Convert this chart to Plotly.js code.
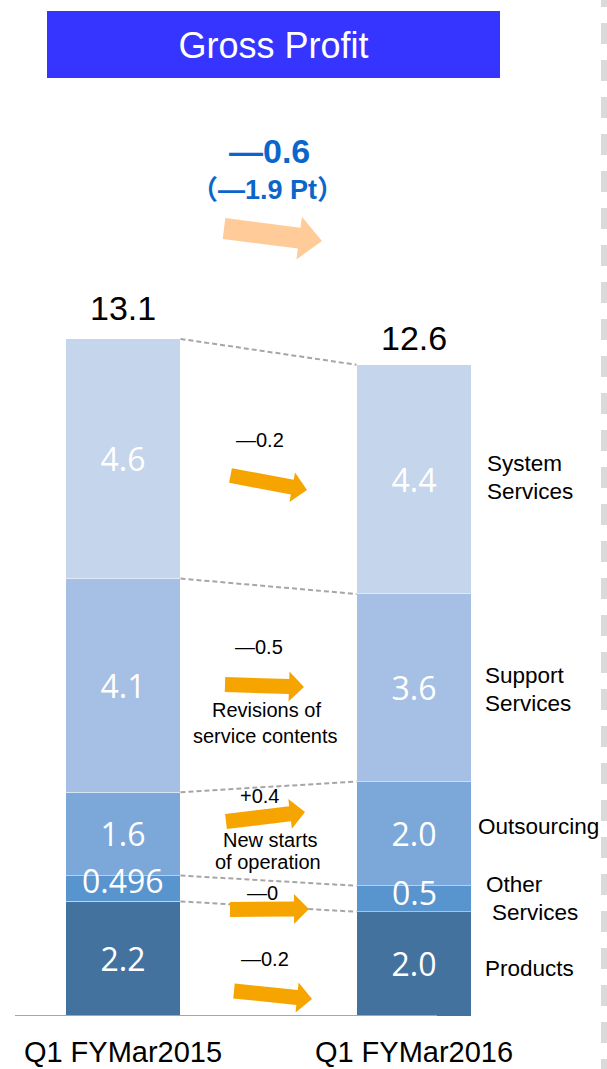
<!DOCTYPE html>
<html>
<head>
<meta charset="utf-8">
<script src="https://cdn.plot.ly/plotly-3.0.1.min.js"></script>
<style>
html,body{margin:0;padding:0;background:#ffffff;}
#chart{width:607px;height:1069px;}
</style>
</head>
<body>
<div id="chart"></div>
<script>
// ---------------- data ----------------
const categories = ['Q1 FYMar2015', 'Q1 FYMar2016'];
const segmentNames = ['Products', 'Other Services', 'Outsourcing', 'Support Services', 'System Services'];
const products        = [2.2, 2.0];
const otherServices   = [0.496, 0.5];
const outsourcing     = [1.6, 2.0];
const supportServices = [4.1, 3.6];
const systemServices  = [4.6, 4.4];
const productsLabels        = ['2.2', '2.0'];
const otherServicesLabels   = ['0.496', '0.5'];
const outsourcingLabels     = ['1.6', '2.0'];
const supportServicesLabels = ['4.1', '3.6'];
const systemServicesLabels  = ['4.6', '4.4'];
const totalLabels = ['13.1', '12.6'];
const changeLabels = ['\u20140.2', '\u20140', '+0.4', '\u20140.5', '\u20140.2']; // Products, Other, Outsourcing, Support, System
const totalChange = '\u20140.6';
const totalChangePt = '\uFF08\u20141.9 Pt\uFF09';
const titleText = 'Gross Profit';

// ---------------- layout helpers ----------------
const W = 607, H = 1069;
const L = 15, T = 0, PW = 592, PH = 1016;
const pxX = x => (x - L) / PW;
const pxY = y => (T + PH - y) / PH;
const ARIAL = 'Liberation Sans, Arial, Noto Sans CJK JP, sans-serif';
const CAL = 'Open Sans, Lato, sans-serif';

const seriesVals = [products, otherServices, outsourcing, supportServices, systemServices];
const seriesText = [productsLabels, otherServicesLabels, outsourcingLabels, supportServicesLabels, systemServicesLabels];
const colors = ['#44729F', '#5894CD', '#7CA8D9', '#A5C0E4', '#C5D5EB'];
const barW = 0.395;
const OTHER = 1; // thin segment whose label sits slightly above centre

const traces = seriesVals.map((vals, i) => ({
  type: 'bar',
  name: segmentNames[i],
  x: categories,
  y: vals,
  width: [barW, barW],
  text: seriesText[i],
  textposition: i === OTHER ? 'none' : 'inside',
  insidetextanchor: 'middle',
  constraintext: 'none',
  textangle: 0,
  textfont: {family: CAL, size: 32, color: '#ffffff'},
  marker: {color: colors[i], line: {color: 'rgba(255,255,255,0.45)', width: 1}},
  hoverinfo: 'skip',
  cliponaxis: false
}));

// cumulative boundaries
const cum = [[0], [0]];
for (let b = 0; b < 2; b++) {
  let s = 0;
  seriesVals.forEach(v => { s += v[b]; cum[b].push(s); });
}

function arrowPath(x0, y0, x1, y1, sw, hw, hl) {
  const dx = x1 - x0, dy = y1 - y0, len = Math.hypot(dx, dy);
  const ux = dx / len, uy = dy / len, nx = -uy, ny = ux;
  const bx = x1 - ux * hl, by = y1 - uy * hl;
  const pts = [
    [x0 + nx * sw / 2, y0 + ny * sw / 2],
    [bx + nx * sw / 2, by + ny * sw / 2],
    [bx + nx * hw / 2, by + ny * hw / 2],
    [x1, y1],
    [bx - nx * hw / 2, by - ny * hw / 2],
    [bx - nx * sw / 2, by - ny * sw / 2],
    [x0 - nx * sw / 2, y0 - ny * sw / 2]
  ];
  return 'M' + pts.map(p => pxX(p[0]).toFixed(5) + ',' + pxY(p[1]).toFixed(5)).join(' L') + ' Z';
}

const shapes = [];
// title box
shapes.push({type: 'rect', xref: 'paper', yref: 'paper', x0: pxX(47), x1: pxX(500), y0: pxY(78), y1: pxY(11),
  fillcolor: '#3535FF', line: {width: 0}, layer: 'below'});
// right dashed separator
shapes.push({type: 'line', xref: 'paper', yref: 'paper', x0: pxX(604), x1: pxX(604), y0: pxY(-14), y1: pxY(1075),
  line: {color: '#DADADA', width: 6, dash: '21px,16px'}});
// dashed connectors between the bars
for (let k = 1; k <= seriesVals.length; k++) {
  shapes.push({type: 'line', xref: 'x', yref: 'y', x0: 0 + barW / 2, x1: 1 - barW / 2, y0: cum[0][k], y1: cum[1][k],
    line: {color: '#A6A6A6', width: 2, dash: '5px,3px'}});
}
// baseline
shapes.push({type: 'line', xref: 'paper', yref: 'y', x0: pxX(15), x1: pxX(437), y0: 0, y1: 0,
  line: {color: '#A6A6A6', width: 2}});
// arrows
const orange = '#F6A400';
shapes.push({type: 'path', xref: 'paper', yref: 'paper', path: arrowPath(224, 228.5, 322, 241, 21, 43, 23), fillcolor: '#FFCC99', line: {width: 0}});
const arrowDefs = [
  [230.5, 475.5, 307, 490],   // System
  [225, 684.5, 304, 687],     // Support
  [226, 821.5, 305, 812],     // Outsourcing
  [230, 909.5, 309, 909],     // Other
  [234, 991, 312, 999]        // Products
];
arrowDefs.forEach(a => shapes.push({type: 'path', xref: 'paper', yref: 'paper',
  path: arrowPath(a[0], a[1], a[2], a[3], 15, 30, 15), fillcolor: orange, line: {width: 0}}));

const annotations = [];
function txt(text, x, y, size, opts) {
  annotations.push(Object.assign({
    text: text, xref: 'paper', yref: 'paper', x: pxX(x), y: pxY(y),
    xanchor: 'center', yanchor: 'middle', showarrow: false,
    font: {family: ARIAL, size: size, color: '#000000'}
  }, opts || {}));
}
// labels of the thin "Other Services" segment
for (let b = 0; b < 2; b++) {
  annotations.push({text: otherServicesLabels[b], xref: 'x', yref: 'y', x: b,
    y: cum[b][OTHER] + seriesVals[OTHER][b] / 2, yshift: b === 0 ? 8 : 6,
    xanchor: 'center', yanchor: 'middle', showarrow: false,
    font: {family: CAL, size: 32, color: '#ffffff'}});
}
// totals above bars
for (let b = 0; b < 2; b++) {
  annotations.push({text: totalLabels[b], xref: 'x', yref: 'y', x: b, y: cum[b][seriesVals.length],
    xanchor: 'center', yanchor: 'middle', yshift: b === 0 ? 31 : 27, showarrow: false,
    font: {family: ARIAL, size: 34, color: '#000000'}});
}
// total change
txt('<b>' + totalChange + '</b>', 269, 151, 34, {font: {family: ARIAL, size: 34, color: '#0B66CC'}});
txt('<b>' + totalChangePt + '</b>', 267, 190, 27, {font: {family: 'Liberation Sans, Noto Sans CJK JP, sans-serif', size: 27, color: '#0B66CC'}});
// segment changes
const changePos = [[265, 959], [262, 893], [259, 796], [259, 647], [260, 440]];
changeLabels.forEach((c, i) => txt(c, changePos[i][0], changePos[i][1], 20));
txt('Revisions of', 266, 710, 20);
txt('service contents', 265, 736, 20);
txt('New starts', 270, 840, 20);
txt('of operation', 268, 862, 20);
// right-hand segment names
const left = {xanchor: 'left'};
txt('System', 485, 464, 22.5, left);
txt('Services', 485, 491, 22.5, left);
txt('Support', 483, 676, 22.5, left);
txt('Services', 483, 703, 22.5, left);
txt('Outsourcing', 476, 826, 22.5, left);
txt('Other', 484, 884, 22.5, left);
txt('Services', 490, 912, 22.5, left);
txt('Products', 483, 968, 22.5, left);

const layout = {
  width: W, height: H,
  margin: {l: L, r: W - L - PW, t: T, b: H - T - PH, pad: 0},
  paper_bgcolor: '#ffffff', plot_bgcolor: '#ffffff',
  barmode: 'stack',
  showlegend: false,
  title: {text: titleText, font: {family: ARIAL, size: 36, color: '#ffffff'},
    xref: 'container', yref: 'container', x: 273.5 / W, y: 1 - 45 / H, xanchor: 'center', yanchor: 'middle'},
  xaxis: {type: 'category', range: [-(123 - L) / 291, -(123 - L) / 291 + PW / 291],
    showgrid: false, zeroline: false, showline: false, ticks: '',
    tickfont: {family: ARIAL, size: 29, color: '#000000'}, ticklabelstandoff: 16, fixedrange: true},
  yaxis: {range: [0, PH / 52.1], visible: false, fixedrange: true},
  shapes: shapes,
  annotations: annotations
};

Plotly.newPlot('chart', traces, layout, {displayModeBar: false, staticPlot: true});
</script>
</body>
</html>
